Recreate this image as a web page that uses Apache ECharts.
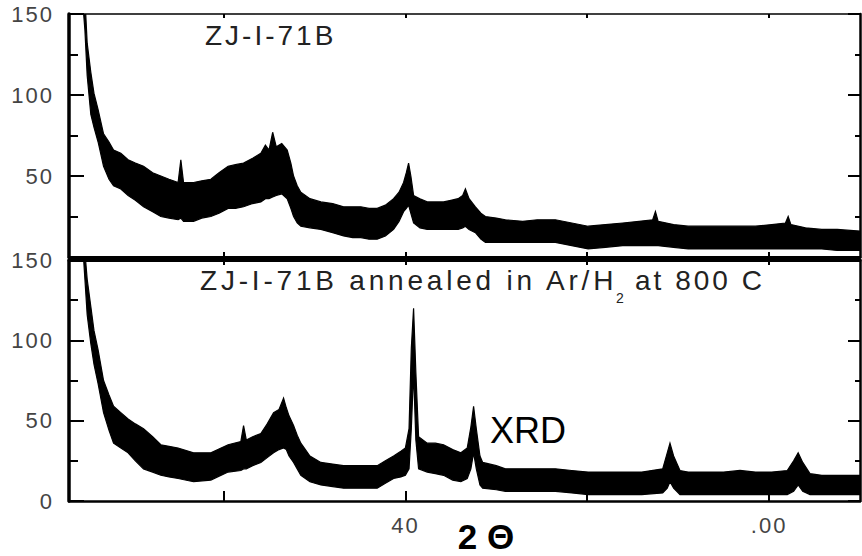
<!DOCTYPE html>
<html><head><meta charset="utf-8">
<script src="https://cdn.jsdelivr.net/npm/echarts@6/dist/echarts.min.js"></script>
<style>html,body{margin:0;padding:0;background:#fff}#c{width:862px;height:556px}</style>
</head><body><div id="c"></div>
<script>
// ---- data (2θ in degrees, intensity; noisy trace given as lower/upper envelope) ----
const topX  = [4.5,4.75,5.0,5.4,5.75,6.2,6.8,7.4,7.9,8.7,9.5,10.3,11.2,12.2,13.1,14.0,15.0,15.3,15.6,16.7,17.6,18.6,19.5,20.5,21.3,22.2,23.2,24.1,24.6,25.0,25.4,25.8,26.4,27.0,27.4,27.7,28.1,28.5,29.5,30.7,32.0,33.2,34.2,35.1,36.0,36.9,37.8,38.7,39.3,39.8,40.1,40.35,40.6,40.9,41.6,42.4,43.3,44.2,45.0,45.8,46.3,46.6,47.0,47.7,48.3,48.8,50,51,52.9,54.5,56.5,58.3,60.1,62,63.9,65.7,67.2,67.5,67.8,69.5,71.1,73,74.8,76.6,78.5,80.3,81.8,82.1,82.4,84,85.8,87.5,90];
const topHi = [175,160,132,114,101,91,76,71,66,64,60,58,56,52,50,48,46,60,46,46,47,48,52,56,57,58,61,64,69,66,77,68,70,66,58,50,44,40,36,34,33,31,31,31,30,30,32,36,40,46,52,58,50,38,36,34,34,34,35,36,38,42,36,31,27,25,24,23,22,23,23,21,19,20,21,22,23,28,22,20,19,19,19,19,19,20,21,25,20,18,17,17,16];
const topLo = [158,140,112,88,80,71,56,48,44,42,38,35,31,28,25,24,23,24,22,22,24,25,27,30,30,31,33,34,36,36,37,38,39,36,30,25,21,19,18,17,15,13,12,12,11,11,13,17,22,28,30,32,27,21,18,17,17,17,17,17,18,19,17,15,11,9,9,9,9,9,9,7,5,6,7,7,7,7,7,6,5,5,5,5,5,5,5,5,5,5,5,4,4];

const botX  = [4.5,4.75,5.0,5.4,5.75,6.2,6.8,7.4,7.9,8.7,9.5,10.3,11.2,12.2,13.1,14.0,15.0,16.7,18.6,20.5,21.9,22.2,22.5,23.2,24.1,24.8,25.5,26.1,26.6,26.9,27.2,27.7,28.1,28.5,29.5,30.7,32.0,33.2,35.1,36.9,37.8,38.7,39.5,40.0,40.4,40.65,40.9,41.15,41.45,42.4,43.3,44.2,45.2,46.1,46.8,47.2,47.5,47.8,48.2,48.5,50,51,53,55,56.5,58.3,60.1,62,64,66,68.3,68.8,69.1,69.5,70.2,71.1,73,75,76.8,78.5,80.3,82,82.7,83.2,83.7,84.5,85.8,87.5,90];
const botHi = [175,155,138,121,106,94,75,66,59,55,51,48,45,40,35,34,33,30,30,35,37,47,38,40,42,48,55,57,64,58,53,47,41,36,28,24,23,22,22,22,25,28,31,33,45,95,120,80,40,36,36,35,32,30,33,46,59,45,28,24,22,20,20,20,20,19,18,18,18,18,20,30,36,28,19,18,18,18,19,18,18,19,25,30,24,17,16,16,16];
const botLo = [160,138,116,98,85,73,55,44,36,33,30,25,20,18,16,15,14,12,13,18,19,20,20,22,24,27,30,32,33,32,28,24,20,16,12,10,9,8,8,8,11,14,15,16,20,45,80,38,20,18,17,16,13,12,14,20,30,20,10,8,7,6,6,6,6,5,4,4,4,4,5,8,12,8,4,4,4,4,4,4,4,4,6,10,6,4,4,4,4];

const xTickValues  = [20, 40, 60, 80];
const xLabelValues = [40, 80];
const xLabelTexts  = ['40', '.00'];
const yTopLabelValues = [50, 100, 150];
const yBotLabelValues = [0, 50, 100, 150];
const titleTop = 'ZJ-I-71B';
const titleBotMain = 'ZJ-I-71B annealed in Ar/H';
const titleBotSub = '2';
const titleBotTail = 'at 800 C';

const chart = echarts.init(document.getElementById('c'), null, {renderer: 'svg'});

const labelFont = {fontFamily: 'Liberation Sans', fontSize: 22, color: '#444'};

function xAx(grid, pos, lineW, tickLen, showLabel) {
  return {
    type: 'value', gridIndex: grid, position: pos, min: 3, max: 90,
    axisLine: {show: true, onZero: false, lineStyle: {color: '#000', width: lineW}},
    axisTick: {show: true, inside: true, length: tickLen, customValues: xTickValues, lineStyle: {color: '#000', width: 2}},
    axisLabel: showLabel ? Object.assign({show: true, margin: 13, customValues: xLabelValues,
      formatter: v => xLabelTexts[xLabelValues.indexOf(v)] || ''}, labelFont) : {show: false},
    splitLine: {show: false}
  };
}
function yAx(grid, pos, lineW, majorLen, minorLen, labels) {
  return {
    type: 'value', gridIndex: grid, position: pos, min: 0, max: 150, interval: 50,
    axisLine: {show: true, onZero: false, lineStyle: {color: '#000', width: lineW}},
    axisTick: {show: true, inside: true, length: majorLen, lineStyle: {color: '#000', width: 2}},
    minorTick: {show: true, splitNumber: 2, length: minorLen, lineStyle: {color: '#000', width: 2}},
    axisLabel: labels ? Object.assign({show: true, margin: 15, customValues: labels}, labelFont) : {show: false},
    splitLine: {show: false}, minorSplitLine: {show: false}
  };
}
// band between lower and upper envelope, drawn through the axes' scales (api.coord)
function band(xs, lo, hi, xi, yi) {
  return {
    type: 'custom', xAxisIndex: xi, yAxisIndex: yi, silent: true, clip: true,
    encode: {x: 0, y: [1, 2]},
    data: xs.map((x, i) => [x, lo[i], hi[i]]),
    renderItem: function (params, api) {
      if (params.dataIndex !== 0) return null;
      const pts = [];
      for (let i = 0; i < xs.length; i++) pts.push(api.coord([xs[i], hi[i]]));
      for (let i = xs.length - 1; i >= 0; i--) pts.push(api.coord([xs[i], lo[i]]));
      const cs = params.coordSys;
      return {
        type: 'polygon', shape: {points: pts},
        style: {fill: '#000', stroke: '#000', lineWidth: 1.2},
        clipPath: {type: 'rect', shape: {x: cs.x, y: cs.y, width: cs.width, height: cs.height}}
      };
    }
  };
}

const option = {
  animation: false,
  backgroundColor: '#fff',
  grid: [
    {left: 69, top: 14, width: 791, height: 243},
    {left: 69, top: 260, width: 791, height: 241}
  ],
  xAxis: [
    xAx(0, 'bottom', 3, 5, false),
    xAx(0, 'top', 1.5, 4, false),
    xAx(1, 'bottom', 2.5, 10, true),
    xAx(1, 'top', 3, 5, false)
  ],
  yAxis: [
    yAx(0, 'left', 3.5, 15, 9, yTopLabelValues),
    yAx(0, 'right', 2.5, 12, 5, null),
    yAx(1, 'left', 3.5, 15, 9, yBotLabelValues),
    yAx(1, 'right', 2.5, 12, 5, null)
  ],
  series: [
    band(topX, topLo, topHi, 0, 0),
    band(botX, botLo, botHi, 2, 2)
  ],
  graphic: [
    {type: 'text', x: 205, y: 35, z: 100, style: {text: titleTop, font: '28px "Liberation Sans"', fill: '#222', align: 'left', verticalAlign: 'middle'}},
    {type: 'text', x: 200, y: 280, z: 100, style: {text: titleBotMain, font: '28px "Liberation Sans"', fill: '#222', align: 'left', verticalAlign: 'middle'}},
    {type: 'text', x: 616, y: 298, z: 100, style: {text: titleBotSub, font: '14px "Liberation Sans"', fill: '#222', align: 'left', verticalAlign: 'middle'}},
    {type: 'text', x: 635, y: 280, z: 100, style: {text: titleBotTail, font: '28px "Liberation Sans"', fill: '#222', align: 'left', verticalAlign: 'middle'}},
    {type: 'text', x: 490, y: 430, z: 100, style: {text: 'XRD', font: '36px "Liberation Sans"', fill: '#000', align: 'left', verticalAlign: 'middle'}},
    {type: 'text', x: 486, y: 536, z: 100, style: {text: '2 Θ', font: 'bold 35px "Liberation Sans"', fill: '#000', align: 'center', verticalAlign: 'middle'}}
  ]
};
chart.setOption(option);

// letter-spacing like the reference's spaced-out type
document.querySelectorAll('#c text').forEach(t => {
  const fs = parseFloat(getComputedStyle(t).fontSize);
  if (t.textContent === titleBotMain) t.style.letterSpacing = '3.8px';
  else if (fs >= 27 && fs <= 29) t.style.letterSpacing = '3px';
  else if (fs >= 21 && fs <= 23) t.style.letterSpacing = '2px';
});
</script>
</body></html>
